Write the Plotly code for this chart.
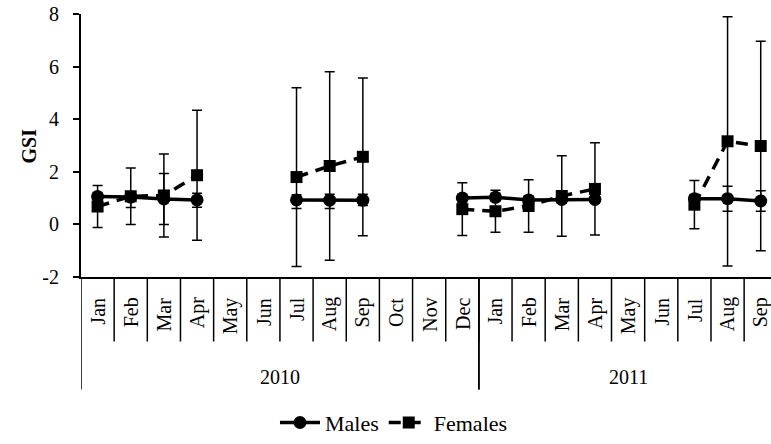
import plotly.graph_objects as go

# Monthly gonadosomatic index (GSI), Jan 2010 - Sep 2011
months = ["Jan", "Feb", "Mar", "Apr", "May", "Jun", "Jul", "Aug", "Sep", "Oct", "Nov", "Dec",
          "Jan", "Feb", "Mar", "Apr", "May", "Jun", "Jul", "Aug", "Sep"]
years = ["2010", "2011"]
year_spans = [(0, 11), (12, 20)]

males = [1.06, 1.04, 0.97, 0.93, None, None, 0.93, 0.92, 0.92, None, None, 1.00,
         1.03, 0.93, 0.95, 0.95, None, None, 0.98, 0.98, 0.89]
males_err_plus = [0.15, 0.15, 0.97, 0.25, 0, 0, 0.20, 0.23, 0.23, 0, 0, 0.15,
                  0.15, 0.15, 0.15, 0.15, 0, 0, 0.15, 0.47, 0.39]
males_err_minus = [0.15, 0.40, 0.97, 0.28, 0, 0, 0.33, 0.32, 0.20, 0, 0, 0.15,
                   0.15, 0.15, 0.15, 0.15, 0, 0, 0.15, 0.48, 0.39]

females = [0.68, 1.07, 1.10, 1.87, None, None, 1.80, 2.22, 2.57, None, None, 0.58,
           0.50, 0.70, 1.08, 1.35, None, None, 0.75, 3.16, 2.98]
females_err = [0.80, 1.07, 1.58, 2.47, 0, 0, 3.40, 3.58, 3.00, 0, 0, 1.00,
               0.80, 1.00, 1.53, 1.75, 0, 0, 0.92, 4.74, 3.98]

y_ticks = [-2, 0, 2, 4, 6, 8]
y_tick_text = ["-2", "0", "2", "4", "6", "8"]

SERIF = "Liberation Serif, Times New Roman, serif"
x = list(range(len(months)))

fig = go.Figure()

fig.add_trace(go.Scatter(
    x=x, y=males, name="Males", mode="lines+markers",
    line=dict(color="black", width=3.5),
    marker=dict(symbol="circle", size=13, color="black"),
    error_y=dict(type="data", symmetric=False, array=males_err_plus,
                 arrayminus=males_err_minus, color="black", thickness=1.5, width=5),
    connectgaps=False,
))

fig.add_trace(go.Scatter(
    x=x, y=females, name="Females", mode="lines+markers",
    line=dict(color="black", width=3.5, dash="12px,8px"),
    marker=dict(symbol="square", size=12, color="black"),
    error_y=dict(type="data", array=females_err, color="black", thickness=1.5, width=5),
    connectgaps=False,
))

# Category axis drawn by hand: separators, rotated month names, year groups
plot_h = 444 - 14 - 161
def paper_y(px):
    return (283 - px) / plot_h

shapes = []
for k in range(1, len(months)):
    shapes.append(dict(type="line", xref="x", yref="paper",
                       x0=k - 0.5, x1=k - 0.5, y0=0, y1=paper_y(349),
                       line=dict(color="black", width=1.5)))
for start, end in year_spans:
    for b in (start - 0.5, end + 0.5):
        shapes.append(dict(type="line", xref="x", yref="paper",
                           x0=b, x1=b, y0=0, y1=paper_y(398),
                           line=dict(color="black", width=1.5)))

annotations = []
for i, m in enumerate(months):
    annotations.append(dict(x=i, xref="x", y=paper_y(302), yref="paper",
                            text=m, textangle=-90, showarrow=False,
                            xanchor="center", yanchor="top",
                            font=dict(family=SERIF, size=20, color="black")))
for yr, (start, end) in zip(years, year_spans):
    annotations.append(dict(x=(start + end) / 2, xref="x", y=paper_y(385), yref="paper",
                            text=yr, showarrow=False, xanchor="center", yanchor="middle",
                            font=dict(family=SERIF, size=20, color="black")))
annotations.append(dict(x=(28 - 81) / 690, xref="paper", y=0.5, yref="paper",
                        text="<b>GSI</b>", textangle=-90, showarrow=False,
                        xanchor="center", yanchor="middle",
                        font=dict(family=SERIF, size=20, color="black")))

fig.update_layout(
    width=771, height=444,
    margin=dict(l=81, r=0, t=14, b=161),
    paper_bgcolor="white", plot_bgcolor="white",
    font=dict(family=SERIF, size=20, color="black"),
    showlegend=True,
    legend=dict(orientation="h", x=0.4536, xanchor="center", y=paper_y(432),
                yanchor="middle", font=dict(family=SERIF, size=22, color="black"),
                bgcolor="rgba(0,0,0,0)", itemwidth=40),
    shapes=shapes,
    annotations=annotations,
    xaxis=dict(range=[-0.5, 20.31], showgrid=False, zeroline=False,
               showline=True, linecolor="black", linewidth=2,
               showticklabels=False, ticks=""),
    yaxis=dict(range=[-2, 8], tickvals=y_ticks, ticktext=y_tick_text,
               showgrid=False, zeroline=False,
               showline=True, linecolor="black", linewidth=2,
               ticks="outside", ticklen=6, tickwidth=1.5, tickcolor="black",
               ticklabelstandoff=10,
               tickfont=dict(family=SERIF, size=20, color="black")),
)

fig.write_html("out.html")
